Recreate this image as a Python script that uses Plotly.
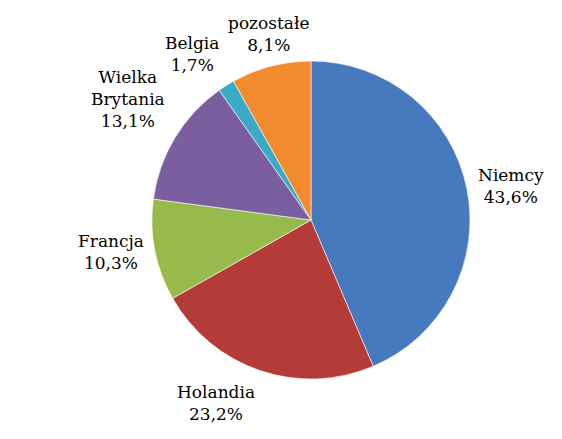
import math
import plotly.graph_objects as go

labels = ["Niemcy", "Holandia", "Francja", "Wielka<br>Brytania", "Belgia", "pozostałe"]
values = [43.6, 23.2, 10.3, 13.1, 1.7, 8.1]
colors = ["#4779BE", "#B53B38", "#97BA4C", "#7A5E9F", "#3AAAC7", "#F28A2E"]

W, H = 562, 439
# pie centre (pixels from left / bottom) and radius; page body has an 8px margin
cx, cy, r = 303, 227, 159
FONT = "DejaVu Serif"

fig = go.Figure(go.Pie(
    labels=labels, values=values, sort=False, direction="clockwise", rotation=0,
    marker=dict(colors=colors, line=dict(color="rgba(255,255,255,0.6)", width=1)),
    textinfo="none", showlegend=False,
    domain=dict(x=[(cx - r) / W, (cx + r) / W], y=[(cy - r) / H, (cy + r) / H]),
))

total = sum(values)
cum = 0
for lab, v in zip(labels, values):
    mid = (cum + v / 2) / total * 2 * math.pi
    cum += v
    s, c = math.sin(mid), math.cos(mid)
    k = 1.06 * r
    x = (cx + k * s) / W
    y = (cy + k * c) / H
    xa = "left" if s > 0.3 else ("right" if s < -0.3 else "center")
    ya = "bottom" if c > 0.3 else ("top" if c < -0.3 else "middle")
    fig.add_annotation(x=x, y=y, xref="paper", yref="paper", showarrow=False,
                       xanchor=xa, yanchor=ya,
                       text=f"{lab}<br>{v:.1f}%".replace(".", ","),
                       font=dict(family=FONT, size=17, color="#000000"),
                       align="center")

fig.update_layout(width=W, height=H, margin=dict(l=0, r=0, t=0, b=0),
                  font=dict(family=FONT, size=17, color="#000000"),
                  paper_bgcolor="white", plot_bgcolor="white")
fig.write_html("out.html")
